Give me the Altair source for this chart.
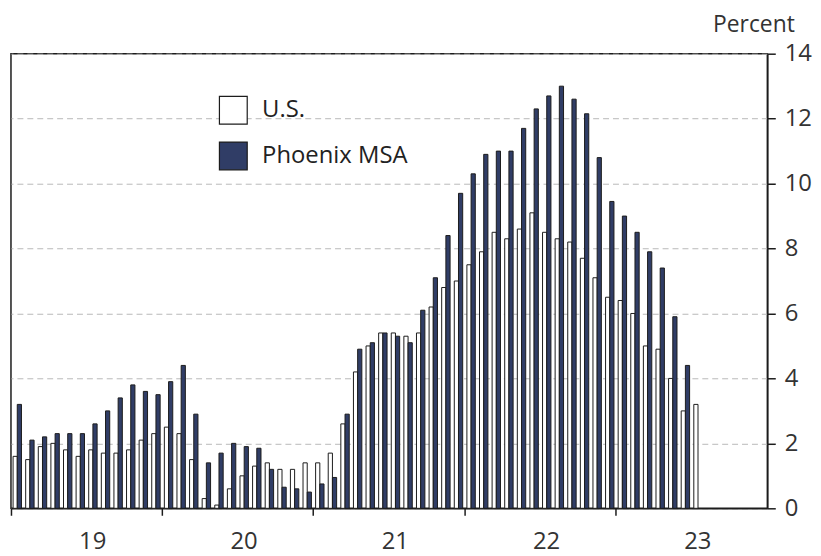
import altair as alt
import pandas as pd

years = [2019, 2020, 2021, 2022, 2023]
months = [f"{y}-{m:02d}" for y in years for m in range(1, 13)]
jan_months = [f"{y}-01" for y in years]

series_names = ["U.S.", "Phoenix MSA"]

us = [
    1.6, 1.5, 1.9, 2.0, 1.8, 1.6, 1.8, 1.7, 1.7, 1.8, 2.1, 2.3,
    2.5, 2.3, 1.5, 0.3, 0.1, 0.6, 1.0, 1.3, 1.4, 1.2, 1.2, 1.4,
    1.4, 1.7, 2.6, 4.2, 5.0, 5.4, 5.4, 5.3, 5.4, 6.2, 6.8, 7.0,
    7.5, 7.9, 8.5, 8.3, 8.6, 9.1, 8.5, 8.3, 8.2, 7.7, 7.1, 6.5,
    6.4, 6.0, 5.0, 4.9, 4.0, 3.0, 3.2,
]
phoenix = [
    3.2, 2.1, 2.2, 2.3, 2.3, 2.3, 2.6, 3.0, 3.4, 3.8, 3.6, 3.5,
    3.9, 4.4, 2.9, 1.4, 1.7, 2.0, 1.9, 1.85, 1.2, 0.65, 0.6, 0.5,
    0.75, 0.95, 2.9, 4.9, 5.1, 5.4, 5.3, 5.1, 6.1, 7.1, 8.4, 9.7,
    10.3, 10.9, 11.0, 11.0, 11.7, 12.3, 12.7, 13.0, 12.6, 12.15, 10.8, 9.45,
    9.0, 8.5, 7.9, 7.4, 5.9, 4.4,
]

rows = []
for i, v in enumerate(us):
    rows.append({"month": months[i], "series": "U.S.", "value": v})
for i, v in enumerate(phoenix):
    rows.append({"month": months[i], "series": "Phoenix MSA", "value": v})
df = pd.DataFrame(rows)

INK = "#1c1c1c"
NAVY = "#303D66"
TXT = "#333333"
FONT = "Open Sans"

chart = (
    alt.Chart(df)
    .mark_bar(stroke=INK, strokeWidth=1)
    .encode(
        x=alt.X(
            "month:O",
            sort=months,
            scale=alt.Scale(domain=months, paddingInner=0, paddingOuter=0),
            axis=alt.Axis(
                values=jan_months,
                bandPosition=0,
                labelExpr="substring(datum.value, 2, 4)",
                labelOffset=76,
                labelAngle=0,
                labelFontSize=24,
                labelColor=TXT,
                labelPadding=14,
                tickSize=7,
                tickColor=INK,
                tickWidth=1.5,
                domainColor=INK,
                domainWidth=1.5,
                grid=False,
                title=None,
            ),
        ),
        xOffset=alt.XOffset(
            "series:N",
            sort=series_names,
            scale=alt.Scale(domain=series_names, paddingInner=0, paddingOuter=0.5),
        ),
        y=alt.Y(
            "value:Q",
            scale=alt.Scale(domain=[0, 14], nice=False),
            axis=alt.Axis(
                orient="right",
                values=list(range(0, 15, 2)),
                grid=True,
                gridDash=[6, 4],
                gridColor="#b8b8b8",
                gridWidth=1,
                tickSize=8,
                tickColor=INK,
                tickWidth=1.5,
                domainColor=INK,
                domainWidth=1.5,
                labelFontSize=24,
                labelColor=TXT,
                labelPadding=9,
                title="Percent",
                titleAngle=0,
                titleX=-14,
                titleY=-29,
                titleAlign="center",
                titleBaseline="middle",
                titleFontSize=23,
                titleFontWeight="normal",
                titleColor=TXT,
            ),
        ),
        color=alt.Color(
            "series:N",
            sort=series_names,
            scale=alt.Scale(domain=series_names, range=["#ffffff", NAVY]),
            legend=alt.Legend(
                orient="none",
                legendX=209,
                legendY=42,
                title=None,
                symbolType="square",
                symbolSize=784,
                symbolStrokeColor=INK,
                symbolStrokeWidth=1.2,
                labelFontSize=24,
                labelColor="#222222",
                labelOffset=14,
                rowPadding=12,
                padding=0,
            ),
        ),
    )
    .properties(
        width=762,
        height=458,
        padding={"left": 3, "top": 44, "right": 46, "bottom": 46},
        autosize=alt.AutoSizeParams(type="none"),
        background="white",
    )
    .configure(font=FONT)
    .configure_view(stroke=INK, strokeWidth=1.5)
)

chart.save("out.html", embed_options={"renderer": "svg", "actions": False})
